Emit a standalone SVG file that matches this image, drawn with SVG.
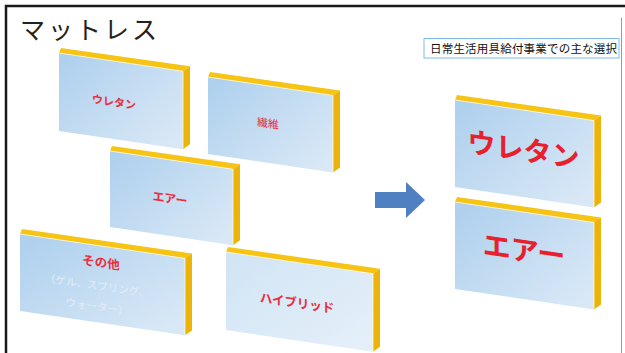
<svg xmlns="http://www.w3.org/2000/svg" width="625" height="353" viewBox="0 0 625 353">
<style>
.face{fill:url(#gFace)}
.faceL{fill:url(#gFaceLight)}
.top{fill:#f6c414}
.side{fill:#ecb40a}
.hl{fill:none;stroke:#fff7d6;stroke-width:0.8}
.jp{font-family:"Noto Sans CJK JP","Noto Sans",sans-serif}
.lbl{font-family:"Noto Sans CJK JP","Noto Sans",sans-serif;font-weight:700;fill:#e8303c;text-anchor:middle}
.big{font-family:"Noto Sans CJK JP","Noto Sans",sans-serif;font-weight:700;fill:#e8202c;text-anchor:middle;font-size:28px}
.sub{font-family:"Noto Sans CJK JP","Noto Sans",sans-serif;fill:#e4edf7;text-anchor:middle;font-size:10.5px}
</style>
<defs>
<linearGradient id="gFace" x1="0" y1="0.2" x2="1" y2="0.8">
<stop offset="0" stop-color="#b0d1ee"/>
<stop offset="0.6" stop-color="#c9dff3"/>
<stop offset="1" stop-color="#d9e8f6"/>
</linearGradient>
<linearGradient id="gFaceLight" x1="0" y1="0.2" x2="1" y2="0.8">
<stop offset="0" stop-color="#d2e5f5"/>
<stop offset="1" stop-color="#e4eff9"/>
</linearGradient>
</defs>
<rect width="625" height="353" fill="#ffffff"/>
<path d="M6,353V6H625" fill="none" stroke="#1a1a1a" stroke-width="2.5"/>
<path d="M621.5,18V353" fill="none" stroke="#9a9a9a" stroke-width="1"/>
<text class="jp" x="20" y="39" font-size="25" letter-spacing="3" fill="#222222">マットレス</text>
<g id="legend">
<rect x="424" y="38.5" width="195" height="19.5" fill="#ffffff" stroke="#7cbce6" stroke-width="1"/>
<text class="jp" x="430" y="53" font-size="11.5" letter-spacing="0.2" fill="#111111">日常生活用具給付事業での主な選択</text>
</g>
<g id="n-urethane" transform="translate(59,53) skewY(8.4)">
<polygon class="top" points="0,0 124,0 131,-6 2,-5.3"/>
<polygon class="side" points="124,0 131,-6 131,72 124,78"/>
<rect class="face" width="124" height="78"/>
<path class="hl" d="M0,0H124V78"/>
<text class="lbl" x="55" y="45" font-size="11">ウレタン</text>
</g>
<g id="n-fiber" transform="translate(208,77) skewY(8.4)">
<polygon class="top" points="0,0 125,0 132,-6 2,-5.3"/>
<polygon class="side" points="125,0 132,-6 132,71 125,77"/>
<rect class="face" width="125" height="77"/>
<path class="hl" d="M0,0H125V77"/>
<text class="lbl" x="60" y="41.5" font-size="11" style="font-weight:400" fill="#e86868">繊維</text>
</g>
<g id="n-air" transform="translate(110,151) skewY(8.4)">
<polygon class="top" points="0,0 123,0 130,-6 2,-5.3"/>
<polygon class="side" points="123,0 130,-6 130,70 123,76"/>
<rect class="face" width="123" height="76"/>
<path class="hl" d="M0,0H123V76"/>
<text class="lbl" x="60" y="43" font-size="12">エアー</text>
</g>
<g id="n-other" transform="translate(20,234) skewY(8.4)">
<polygon class="top" points="0,0 165,0 172,-6 2,-5.3"/>
<polygon class="side" points="165,0 172,-6 172,71 165,77"/>
<rect class="face" width="165" height="77"/>
<path class="hl" d="M0,0H165V77"/>
<text class="lbl" x="81" y="21" font-size="12.5">その他</text>
<text class="sub" x="77" y="44">（ゲル、スプリング、</text>
<text class="sub" x="77" y="65">ウォーター）</text>
</g>
<g id="n-hybrid" transform="translate(226,252) skewY(8.4)">
<polygon class="top" points="0,0 147,0 154,-6 2,-5.3"/>
<polygon class="side" points="147,0 154,-6 154,72 147,78"/>
<rect class="faceL" width="147" height="78"/>
<path class="hl" d="M0,0H147V78"/>
<text class="lbl" x="71" y="45" font-size="12.5">ハイブリッド</text>
</g>
<g id="n-urethane-main" transform="translate(455,100) skewY(8.4)">
<polygon class="top" points="0,0 139,0 146,-6 2,-5.3"/>
<polygon class="side" points="139,0 146,-6 146,81 139,87"/>
<rect class="face" width="139" height="87"/>
<path class="hl" d="M0,0H139V87"/>
<text class="big" x="68.5" y="50">ウレタン</text>
</g>
<g id="n-air-main" transform="translate(455,202) skewY(8.4)">
<polygon class="top" points="0,0 139,0 146,-6 2,-5.3"/>
<polygon class="side" points="139,0 146,-6 146,81 139,87"/>
<rect class="face" width="139" height="87"/>
<path class="hl" d="M0,0H139V87"/>
<text class="big" x="69" y="48.5">エアー</text>
</g>
<g id="connectors">
<polygon points="375,192 406,192 406,182 425,200 406,218 406,208 375,208" fill="#4f80c2"/>
</g>
</svg>
